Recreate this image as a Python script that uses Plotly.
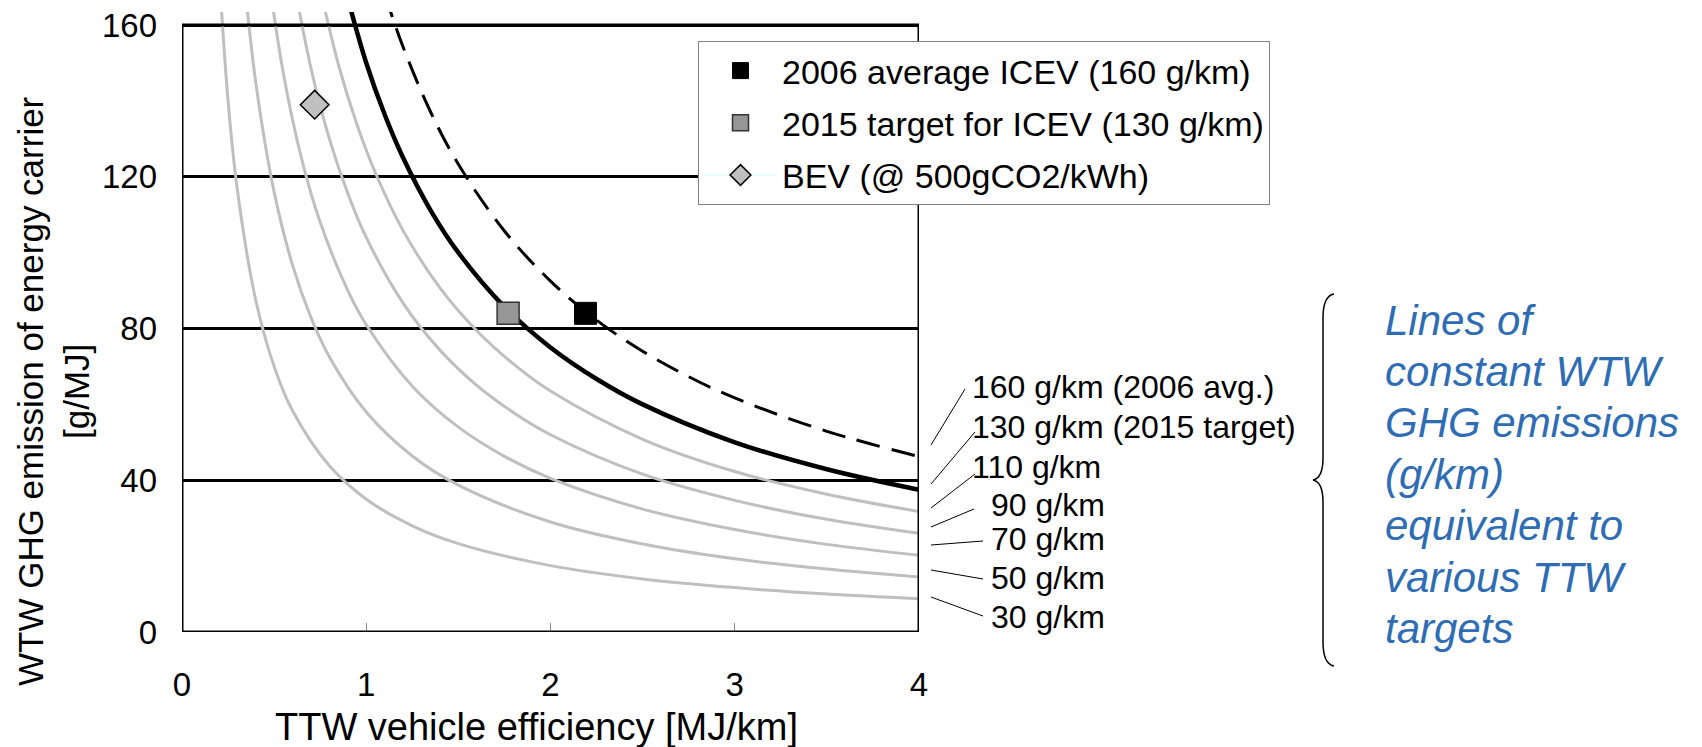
import plotly.graph_objects as go

# ---------------- data ----------------
x_ticks = [0, 1, 2, 3, 4]
y_ticks = [0, 40, 80, 120, 160]

# iso-emission lines (x = TTW MJ/km, y = WTW g/MJ)
c30_x = [0.2, 0.25, 0.3, 0.4, 0.5, 0.6, 0.8, 1.0, 1.25, 1.5, 2.0, 2.5, 3.0, 3.5, 4.0]
c30_y = [175, 140, 116.7, 87.5, 70, 58.3, 43.8, 35, 28, 23.3, 17.5, 14, 11.7, 10, 8.75]
c50_x = [0.33, 0.4, 0.5, 0.6, 0.7, 0.8, 1.0, 1.25, 1.5, 2.0, 2.5, 3.0, 3.5, 4.0]
c50_y = [175.8, 145, 116, 96.7, 82.9, 72.5, 58, 46.4, 38.7, 29, 23.2, 19.3, 16.6, 14.5]
c70_x = [0.46, 0.55, 0.65, 0.75, 0.9, 1.0, 1.25, 1.5, 1.75, 2.0, 2.5, 3.0, 3.5, 4.0]
c70_y = [176.1, 147.3, 124.6, 108, 90, 81, 64.8, 54, 46.3, 40.5, 32.4, 27, 23.1, 20.25]
c90_x = [0.6, 0.7, 0.8, 0.9, 1.0, 1.2, 1.4, 1.6, 1.8, 2.0, 2.5, 3.0, 3.5, 4.0]
c90_y = [173.3, 148.6, 130, 115.6, 104, 86.7, 74.3, 65, 57.8, 52, 41.6, 34.7, 29.7, 26]
c110_x = [0.74, 0.85, 0.95, 1.05, 1.2, 1.4, 1.6, 1.8, 2.0, 2.5, 3.0, 3.5, 4.0]
c110_y = [171.6, 149.4, 133.7, 121, 105.8, 90.7, 79.4, 70.6, 63.5, 50.8, 42.3, 36.3, 31.75]
c130_x = [0.88, 1.0, 1.1, 1.2, 1.35, 1.5, 1.75, 2.0, 2.25, 2.5, 3.0, 3.5, 4.0]
c130_y = [170.5, 150, 136.4, 125, 111.1, 100, 85.7, 75, 66.7, 60, 50, 42.9, 37.5]
c160_x = [1.1, 1.2, 1.35, 1.5, 1.75, 2.0, 2.25, 2.5, 2.75, 3.0, 3.5, 4.0]
c160_y = [168.2, 154.2, 137, 123.3, 105.7, 92.5, 82.2, 74, 67.3, 61.7, 52.9, 46.25]

curve_labels = ["160 g/km (2006 avg.)", "130 g/km (2015 target)", "110 g/km",
                "90 g/km", "70 g/km", "50 g/km", "30 g/km"]

icev2006_x, icev2006_y = [2.19], [84]
icev2015_x, icev2015_y = [1.77], [84]
bev_x, bev_y = [0.72], [139]

legend_names = ["2006 average ICEV (160 g/km)", "2015 target for ICEV (130 g/km)",
                "BEV (@ 500gCO2/kWh)"]

side_note = ["Lines of", "constant WTW", "GHG emissions", "(g/km)",
             "equivalent to", "various TTW", "targets"]

x_title = "TTW vehicle efficiency [MJ/km]"
y_title = "WTW GHG emission of energy carrier<br>[g/MJ]"

# ---------------- layout helpers ----------------
W, H = 1702, 747
ML, MR, MT, MB = 182, 783, 12, 115
PW, PH = W - ML - MR, H - MT - MB
FONT = "Liberation Sans, Arial, sans-serif"


def px(xp):
    return (xp - ML) / PW


def py(yp):
    return (H - MB - yp) / PH


fig = go.Figure()

gray = "#BFBFBF"
for cx, cy in [(c30_x, c30_y), (c50_x, c50_y), (c70_x, c70_y),
               (c90_x, c90_y), (c110_x, c110_y)]:
    fig.add_trace(go.Scatter(x=cx, y=cy, mode="lines", showlegend=False,
                             hoverinfo="skip",
                             line=dict(color=gray, width=3, shape="spline")))
fig.add_trace(go.Scatter(x=c130_x, y=c130_y, mode="lines", showlegend=False,
                         hoverinfo="skip",
                         line=dict(color="black", width=4.5, shape="spline")))
fig.add_trace(go.Scatter(x=c160_x, y=c160_y, mode="lines", showlegend=False,
                         hoverinfo="skip",
                         line=dict(color="black", width=3, shape="spline",
                                   dash="24px,12px")))

fig.add_trace(go.Scatter(x=icev2006_x, y=icev2006_y, mode="markers",
                         name=legend_names[0], legendgroup="g1",
                         marker=dict(symbol="square", size=22, color="black",
                                     line=dict(color="black", width=1))))
fig.add_trace(go.Scatter(x=icev2015_x, y=icev2015_y, mode="markers",
                         name=legend_names[1], legendgroup="g2",
                         marker=dict(symbol="square", size=22, color="#969696",
                                     line=dict(color="#333333", width=1.5))))
fig.add_trace(go.Scatter(x=bev_x, y=bev_y, mode="lines+markers",
                         name=legend_names[2], legendgroup="g3",
                         line=dict(color="#CCFFFF", width=1),
                         marker=dict(symbol="diamond", size=22, color="#C0C0C0",
                                     line=dict(color="black", width=1.5))))

shapes = []
# plot frame
shapes.append(dict(type="rect", xref="x", yref="y", x0=0, x1=4, y0=0, y1=160,
                   line=dict(color="black", width=3), layer="above"))

# leader lines for the curve labels (pixel coordinates)
leaders = [((931, 445), (965, 389)), ((931, 484), (975, 432)),
           ((931, 508), (975, 474)), ((931, 527), (974, 509)),
           ((931, 545), (983, 541)), ((931, 570), (983, 579)),
           ((931, 597), (983, 616))]
for (xa, ya), (xb, yb) in leaders:
    shapes.append(dict(type="line", xref="paper", yref="paper",
                       x0=px(xa), y0=py(ya), x1=px(xb), y1=py(yb),
                       line=dict(color="black", width=1)))

# curly brace
bp = [("M", 1334, 294), ("Q", 1323, 296, 1323, 318), ("L", 1323, 458),
      ("Q", 1323, 478, 1313, 480), ("Q", 1323, 482, 1323, 502),
      ("L", 1323, 642), ("Q", 1323, 664, 1334, 666)]
path = ""
for seg in bp:
    cmd = seg[0]
    pts = seg[1:]
    coords = []
    for i in range(0, len(pts), 2):
        coords.append(f"{px(pts[i]):.5f},{py(pts[i+1]):.5f}")
    path += cmd + " " + " ".join(coords) + " "
shapes.append(dict(type="path", xref="paper", yref="paper", path=path.strip(),
                   line=dict(color="black", width=1.5)))

annotations = []
label_pos = [(970, 387), (970, 427), (970, 467), (989, 505), (989, 539),
             (989, 578), (989, 617)]
for txt, (xl, yl) in zip(curve_labels, label_pos):
    annotations.append(dict(text=txt, xref="paper", yref="paper", x=px(xl), y=py(yl),
                            xanchor="left", yanchor="middle", showarrow=False,
                            font=dict(family=FONT, size=32, color="black")))

for i, txt in enumerate(side_note):
    annotations.append(dict(text=txt, xref="paper", yref="paper",
                            x=px(1383), y=py(320 + i * 51.4),
                            xanchor="left", yanchor="middle", showarrow=False,
                            font=dict(family=FONT, size=42, color="#2E6DB4",
                                      style="italic")))

annotations.append(dict(text=x_title, xref="paper", yref="paper",
                        x=px(536), y=py(727), xanchor="center", yanchor="middle",
                        showarrow=False,
                        font=dict(family=FONT, size=38, color="black")))
annotations.append(dict(text=y_title, xref="paper", yref="paper",
                        x=px(53), y=py(391), xanchor="center", yanchor="middle",
                        showarrow=False, textangle=-90,
                        font=dict(family=FONT, size=35, color="black")))

fig.update_layout(
    width=W, height=H,
    margin=dict(l=ML, r=MR, t=MT, b=MB, pad=0, autoexpand=False),
    paper_bgcolor="white", plot_bgcolor="white",
    font=dict(family=FONT, color="black"),
    xaxis=dict(range=[0, 4], tickvals=x_ticks, showgrid=False, zeroline=False,
               showline=False, ticks="inside", ticklen=9, tickcolor="#888888",
               tickwidth=1, tickfont=dict(size=33, color="black"),
               ticklabelstandoff=30, automargin=False),
    yaxis=dict(range=[0, 163.43], tickvals=y_ticks, showgrid=True,
               gridcolor="black", gridwidth=2.5, zeroline=False, showline=False,
               ticks="", tickfont=dict(size=33, color="black"),
               ticklabelstandoff=24, automargin=False),
    legend=dict(x=px(698), y=py(41), xanchor="left", yanchor="top",
                bgcolor="white", bordercolor="#808080", borderwidth=1,
                font=dict(family=FONT, size=34, color="black"),
                itemwidth=73, tracegroupgap=5, itemsizing="trace"),
    shapes=shapes,
    annotations=annotations,
    showlegend=True,
)

fig.write_html("out.html")
